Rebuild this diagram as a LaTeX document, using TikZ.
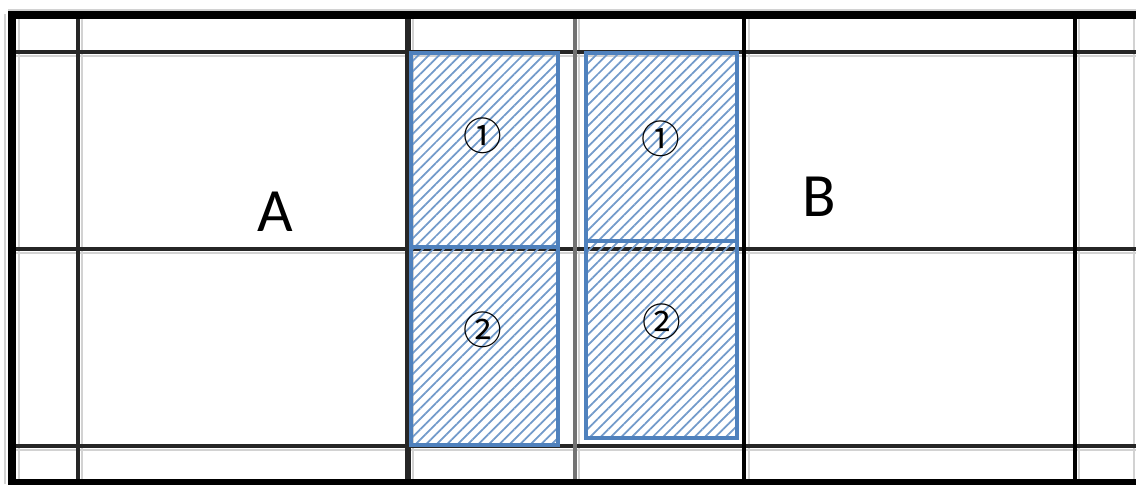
\documentclass[tikz,border=0pt]{standalone}
\usepackage{fontspec}
\setmainfont{Carlito}
\newfontfamily\circfont{Noto Sans CJK JP}
\usepackage{xcolor}
\usepackage{tikz}
\usetikzlibrary{patterns.meta}
\definecolor{cellblue}{HTML}{4F81BD}

\begin{document}
\begin{tikzpicture}[x=0.01cm, y=-0.01cm,
  shade line/.style={gray!35, line width=0.7pt},
  cellbox/.style={draw=cellblue, line width=1.1pt,
    pattern={Lines[angle=45, distance=2.1pt, line width=0.5pt]}, pattern color=cellblue!80},
  numlabel/.style={font=\circfont\fontsize{11}{12}\selectfont},
  letter/.style={font=\fontsize{17.5}{18}\selectfont}]
\useasboundingbox (0,0) rectangle (1136,484);
% light shadows of the grid
\foreach \x in {5,19,82,413,579,749,1079,1134}
  \draw[shade line] (\x,14) -- (\x,484);
\foreach \y in {10,56,253,450}
  \draw[shade line] (8,\y) -- (1136,\y);
% grid
\foreach \y/\w in {52/0.9, 249/0.9, 446/1.0}
  \draw[black!85, line width=\w pt] (12,\y) -- (1136,\y);
\foreach \x/\w/\c in {78/1.1/black!85, 408/1.7/black!85, 575/1.4/black!55,
                      744/1.3/black, 1075/1.1/black}
  \draw[\c, line width=\w pt] (\x,15) -- (\x,484);
\draw[line width=2pt] (8,15) -- (1136,15);
\draw[line width=1.6pt] (8,482) -- (1136,482);
\draw[line width=2.3pt] (12,11) -- (12,484);
% hatched cells
\draw[cellbox] (411,53) rectangle (558,247);
\draw[cellbox] (411,247) rectangle (558,445);
\draw[cellbox] (586,53) rectangle (737,241);
\draw[cellbox] (586,241) rectangle (737,438);
% labels
\node[numlabel] (a1) at (483,136) {①};
\node[numlabel] (a2) at (483,330) {②};
\node[numlabel] (b1) at (661,139) {①};
\node[numlabel] (b2) at (662,322) {②};
\node[letter] (A) at (275,212) {A};
\node[letter] (B) at (819,197) {B};
\end{tikzpicture}
\end{document}
